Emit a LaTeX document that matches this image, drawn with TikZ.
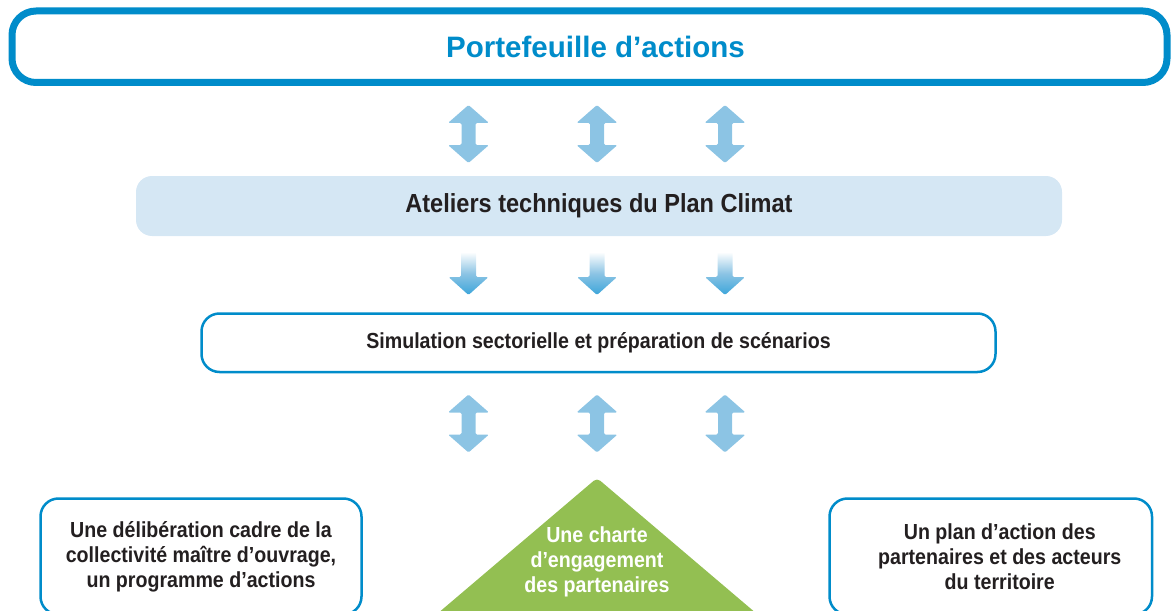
\documentclass[tikz,border=0pt]{standalone}
\usepackage{fontspec}
\setmainfont{Liberation Sans}
\newfontfamily\narrowfont{Liberation Sans}[FakeStretch=0.9]

\definecolor{planblue}{RGB}{0,140,202}
\definecolor{arrowblue}{RGB}{140,196,228}
\definecolor{ateliersfill}{RGB}{213,231,244}
\definecolor{chartegreen}{RGB}{147,191,82}
\definecolor{textdark}{RGB}{35,31,32}
\definecolor{shadeblue}{RGB}{60,165,218}

\newcommand{\pxu}{0.025cm}

\tikzset{
  cadre/.style={draw=planblue, line width=2.5*\pxu, rounded corners=18*\pxu,
    fill=white, inner sep=0pt, align=center, text=textdark},
  titlebox/.style={cadre, line width=7*\pxu, rounded corners=24*\pxu},
  titletext/.style={text=planblue, inner sep=0pt, font=\bfseries\fontsize{21}{25}\selectfont},
  atelierbox/.style={fill=ateliersfill, rounded corners=16*\pxu, inner sep=0pt,
    text=textdark, font=\narrowfont\bfseries\fontsize{18.6}{22}\selectfont},
  bodytext/.style={font=\narrowfont\bfseries\fontsize{15.5}{17.8}\selectfont, text=textdark, align=center},
  dblarrow/.pic={
    \fill[arrowblue, rounded corners=1pt] (0,-29) -- (20.5,-11) -- (7,-11) -- (7,11)
      -- (20.5,11) -- (0,29) -- (-20.5,11) -- (-7,11) -- (-7,-11) -- (-20.5,-11) -- cycle;
  },
  downarrow/.pic={
    \shade[top color=white, bottom color=shadeblue, middle color=arrowblue, rounded corners=1pt]
      (-7.5,0) -- (7.5,0) -- (7.5,25) -- (20,25) -- (0,43) -- (-20,25) -- (-7.5,25) -- cycle;
  }
}

\begin{document}
\begin{tikzpicture}[x=0.025cm,y=-0.025cm]
\useasboundingbox (0,0) rectangle (1172,611);
\clip (0,0) rectangle (1172,611);

% les cadres
\node[titlebox, minimum width=1155*\pxu, minimum height=71.5*\pxu] (portefeuille) at (589.5,46.75) {};
\node[titletext] (portefeuilletext) at ([xshift=0.15cm]portefeuille.center) {Portefeuille d’actions};
\node[atelierbox, minimum width=926*\pxu, minimum height=60*\pxu] (ateliers) at (599,206) {Ateliers techniques du Plan Climat};
\node[cadre, bodytext, minimum width=794*\pxu, minimum height=58.5*\pxu] (simulation) at (598.5,342.75) {Simulation sectorielle et préparation de scénarios};

\node[cadre, bodytext, minimum width=321*\pxu, minimum height=116*\pxu] (deliberation) at (201,556.5)
  {Une délibération cadre de la\\collectivité maître d’ouvrage,\\un programme d’actions};
\node[cadre, minimum width=322.5*\pxu, minimum height=116*\pxu] (planaction) at (990.75,556.5) {};
\node[bodytext, inner sep=0pt] (planactiontext) at ([xshift=0.225cm]planaction.center)
  {Un plan d’action des\\partenaires et des acteurs\\du territoire};

% la charte
\fill[chartegreen, rounded corners=3pt] (597,478) -- (757,614) -- (437,614) -- cycle;
\node[bodytext, text=white, inner sep=0pt] (charte) at (597,562) {Une charte\\d’engagement\\des partenaires};

% les fleches
\foreach \x in {468.5,597,725} {
  \pic at (\x,134) {dblarrow};
  \pic at (\x,252) {downarrow};
  \pic at (\x,423.5) {dblarrow};
}

\end{tikzpicture}
\end{document}
